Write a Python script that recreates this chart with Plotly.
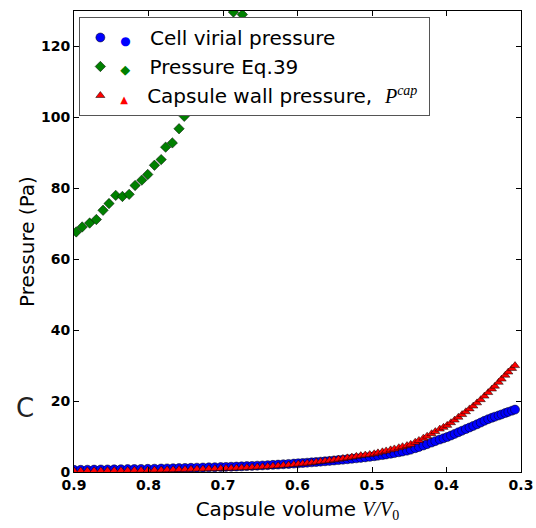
import plotly.graph_objects as go

# ---------------- data ----------------
vol = [0.900, 0.891, 0.882, 0.873, 0.864, 0.855, 0.846, 0.837, 0.828, 0.819, 0.810,
       0.801, 0.792, 0.783, 0.775, 0.767, 0.759, 0.751, 0.743, 0.735, 0.727, 0.719, 0.711,
       0.703, 0.696, 0.689, 0.682, 0.675, 0.668, 0.661, 0.654, 0.647, 0.640, 0.633, 0.626,
       0.619, 0.612, 0.605,
       0.599, 0.593, 0.587, 0.581, 0.575, 0.569, 0.563, 0.557, 0.551, 0.545, 0.539, 0.533,
       0.527, 0.521, 0.515, 0.509, 0.503,
       0.497, 0.492, 0.486, 0.481, 0.475, 0.470, 0.464, 0.459, 0.453, 0.448, 0.442, 0.437,
       0.431, 0.426, 0.420, 0.415, 0.409, 0.404,
       0.399, 0.394, 0.389, 0.384, 0.379, 0.374, 0.369, 0.364, 0.359, 0.354, 0.349, 0.344,
       0.339, 0.335, 0.330, 0.326, 0.321, 0.317, 0.312, 0.308]

virial_p = [0.60, 0.63, 0.65, 0.68, 0.71, 0.73, 0.76, 0.79, 0.82, 0.84, 0.87,
            0.90, 0.94, 0.98, 1.02, 1.06, 1.10, 1.15, 1.19, 1.23, 1.27, 1.31, 1.35,
            1.39, 1.44, 1.49, 1.54, 1.60, 1.66, 1.72, 1.79, 1.86, 1.93, 2.01, 2.09,
            2.18, 2.27, 2.37,
            2.45, 2.54, 2.63, 2.72, 2.82, 2.92, 3.02, 3.13, 3.24, 3.35, 3.47, 3.59,
            3.72, 3.85, 3.98, 4.12, 4.27,
            4.45, 4.60, 4.78, 4.95, 5.15, 5.33, 5.56, 5.77, 6.02, 6.30, 6.70, 7.05,
            7.47, 7.85, 8.30, 8.70, 9.15, 9.50,
            9.88, 10.30, 10.75, 11.20, 11.65, 12.10, 12.55, 13.00, 13.45, 13.95, 14.45, 14.90,
            15.30, 15.60, 15.95, 16.25, 16.65, 16.95, 17.30, 17.60]

capsule_p = [0.30, 0.32, 0.34, 0.35, 0.37, 0.39, 0.41, 0.43, 0.45, 0.47, 0.49,
             0.51, 0.54, 0.58, 0.62, 0.66, 0.70, 0.74, 0.79, 0.83, 0.87, 0.91, 0.95,
             0.99, 1.03, 1.08, 1.13, 1.19, 1.25, 1.32, 1.40, 1.48, 1.57, 1.66, 1.76,
             1.87, 1.98, 2.10,
             2.23, 2.36, 2.50, 2.64, 2.79, 2.94, 3.10, 3.27, 3.44, 3.62, 3.81, 4.00,
             4.20, 4.41, 4.62, 4.78, 4.95,
             5.15, 5.40, 5.70, 5.95, 6.25, 6.52, 6.85, 7.15, 7.45, 7.80, 8.40, 8.90,
             9.55, 10.10, 10.80, 11.40, 12.10, 12.60,
             13.15, 13.90, 14.65, 15.45, 16.20, 17.00, 17.80, 18.60, 19.50, 20.40, 21.40, 22.40,
             23.40, 24.20, 25.30, 26.20, 27.30, 28.20, 29.20, 30.00]

eq39_vol = [0.897, 0.889, 0.879, 0.870, 0.861, 0.853, 0.844, 0.835, 0.826, 0.818,
            0.809, 0.801, 0.792, 0.783, 0.777, 0.768, 0.759, 0.752, 0.744, 0.736,
            0.727, 0.718, 0.710, 0.702, 0.694, 0.686, 0.674, 0.666, 0.657]
eq39_p = [67.7, 69.1, 70.2, 71.2, 73.8, 75.7, 78.0, 77.7, 78.3, 80.8,
          82.3, 83.9, 86.5, 88.1, 91.6, 92.8, 96.8, 100.3, 103.0, 106.5,
          110.0, 113.5, 117.0, 121.0, 125.0, 129.7, 129.0, 133.0, 137.0]

x_ticks = [0.9, 0.8, 0.7, 0.6, 0.5, 0.4, 0.3]
y_ticks = [0, 20, 40, 60, 80, 100, 120]

SERIF = "font-family:'Liberation Serif';font-style:italic"
GAP = "&nbsp;&nbsp;&nbsp;"

fig = go.Figure()

fig.add_trace(go.Scatter(
    x=vol, y=virial_p, mode="markers", legendgroup="a",
    name=f"<span style='color:#0000ff;font-size:12px'>●</span>{GAP}Cell virial pressure",
    marker=dict(symbol="circle", size=9, color="#0000ff",
                line=dict(color="black", width=0.5)),
))
fig.add_trace(go.Scatter(
    x=eq39_vol, y=eq39_p, mode="markers", legendgroup="b",
    name=f"<span style='color:#008000;font-size:13px'>◆</span>{GAP}Pressure Eq.39",
    marker=dict(symbol="diamond", size=8, color="#008000",
                line=dict(color="black", width=0.5)),
))
fig.add_trace(go.Scatter(
    x=vol, y=capsule_p, mode="markers", legendgroup="c",
    name=(f"<span style='color:#ff0000;font-size:10px'>▲</span>{GAP}Capsule wall pressure,&nbsp; "
          f"<span style=\"{SERIF}\">P</span><sup><span style=\"{SERIF}\">cap</span></sup>&nbsp;"),
    marker=dict(symbol="triangle-up", size=8, color="#ff0000",
                line=dict(color="black", width=0.5)),
))

axis_common = dict(
    showgrid=False, zeroline=False, showline=True, linecolor="black", linewidth=1,
    mirror="ticks", ticks="inside", ticklen=5, tickcolor="black", tickwidth=1,
    automargin=False,
    tickfont=dict(family="DejaVu Sans", size=14, color="black", weight="bold"),
)

fig.update_layout(
    width=536, height=528,
    margin=dict(l=74, r=15, t=11, b=56),
    paper_bgcolor="white", plot_bgcolor="white",
    font=dict(family="DejaVu Sans", color="black"),
    xaxis=dict(range=[0.9, 0.3], tickvals=x_ticks, ticktext=[f"{v:.1f}" for v in x_ticks],
               title=dict(text=(f"Capsule volume <span style=\"{SERIF}\">V</span>"
                                f"<span style=\"{SERIF}\">/V</span>"
                                "<sub><span style=\"font-family:'Liberation Serif'\">0</span></sub>"),
                          font=dict(size=20), standoff=10),
               **axis_common),
    yaxis=dict(range=[0, 130], tickvals=y_ticks, ticktext=[str(v) for v in y_ticks],
               title=dict(text="Pressure (Pa)", font=dict(size=20), standoff=0),
               **axis_common),
    legend=dict(x=0.012, y=0.987, xanchor="left", yanchor="top",
                bgcolor="white", bordercolor="#555555", borderwidth=1,
                font=dict(family="DejaVu Sans", size=20, color="black"),
                itemwidth=30, tracegroupgap=0, traceorder="grouped"),
    showlegend=True,
    annotations=[dict(text="C", x=-0.11, y=0.139, xref="paper", yref="paper",
                      showarrow=False, font=dict(size=26, color="#222222"),
                      xanchor="center", yanchor="middle")],
)

fig.write_html("out.html", config={"displayModeBar": False},
               post_script="document.body.style.margin='0px';")
